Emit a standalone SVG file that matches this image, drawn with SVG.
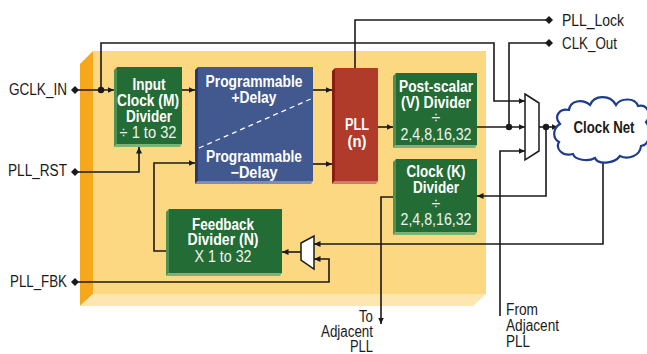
<svg xmlns="http://www.w3.org/2000/svg" width="647" height="354" viewBox="0 0 647 354">
<defs>
<marker id="arr" markerUnits="userSpaceOnUse" markerWidth="7" markerHeight="7" refX="6.5" refY="3.5" orient="auto">
<path d="M0,0.5 L6.5,3.5 L0,6.5 Z" fill="#1a1a1a"/>
</marker>
<style>
.ln{fill:none;stroke:#1a1a1a;stroke-width:1.6}
.ar{marker-end:url(#arr)}
text{font-family:"Liberation Sans",Arial,sans-serif;font-size:16px}
.lbl{fill:#1a1a1a}
.bt{font-weight:bold;fill:#ffffff;text-anchor:middle}
.rt{fill:#eef4ee;text-anchor:middle}
.green{fill:#246c36}
.gl{fill:#4f8f52}
.gb{fill:#7fb07a}
.dot{fill:#1a1a1a}
.mux{fill:#ffffff;stroke:#1a1a1a;stroke-width:1.5}
</style>
</defs>
<rect width="647" height="354" fill="#ffffff"/>
<g id="background">
<polygon points="93,51 486,51 486,294 93,294" fill="#fdd883"/>
<polygon points="80,64 93,51 93,294 80,306" fill="#f5a81c"/>
<polygon points="80,306 93,294 486,294 473,306" fill="#fee6b0"/>
</g>
<g id="connectors">
<path class="ln ar" d="M75,90 H114"/>
<path class="ln ar" d="M101,90 V43 H494 V101 H525"/>
<path class="ln ar" d="M182,90 H195"/>
<path class="ln ar" d="M75,172 H139 V147"/>
<path class="ln ar" d="M166,251 H154 V163 H195"/>
<path class="ln ar" d="M313,90 H332"/>
<path class="ln ar" d="M313,164 H332"/>
<path class="ln ar" d="M378,127 H393"/>
<path class="ln" d="M355,68 V20 H549"/>
<path class="ln ar" d="M477,127 H525"/>
<path class="ln" d="M549,43 H509 V127"/>
<path class="ln ar" d="M500,316 V151 H525"/>
<path class="ln ar" d="M539,127 H558"/>
<path class="ln ar" d="M546,127 V196 H477"/>
<path class="ln ar" d="M603,160 V244 H314"/>
<path class="ln ar" d="M393,197 H381 V324"/>
<path class="ln ar" d="M75,282 H329 V259 H314"/>
<path class="ln ar" d="M301,252 H282"/>
<circle class="dot" cx="101" cy="90" r="3.2"/>
<circle class="dot" cx="509" cy="127" r="3.2"/>
<circle class="dot" cx="546" cy="127" r="3.2"/>
<polygon class="dot" points="647,121 641,125 647,129"/>
</g>
<g id="pin-gclk">
<polygon class="dot" points="71,90 75,86 79,90 75,94"/>
<text class="lbl" x="67" y="95" text-anchor="end" textLength="58" lengthAdjust="spacingAndGlyphs">GCLK_IN</text>
</g>
<g id="pin-rst">
<polygon class="dot" points="71,172 75,168 79,172 75,176"/>
<text class="lbl" x="67" y="176" text-anchor="end" textLength="59" lengthAdjust="spacingAndGlyphs">PLL_RST</text>
</g>
<g id="pin-fbk">
<polygon class="dot" points="71,282 75,278 79,282 75,286"/>
<text class="lbl" x="67" y="287" text-anchor="end" textLength="57" lengthAdjust="spacingAndGlyphs">PLL_FBK</text>
</g>
<g id="pin-lock">
<polygon class="dot" points="545,20 549,16 553,20 549,24"/>
<text class="lbl" x="562" y="26" textLength="62" lengthAdjust="spacingAndGlyphs">PLL_Lock</text>
</g>
<g id="pin-clkout">
<polygon class="dot" points="545,43 549,39 553,43 549,47"/>
<text class="lbl" x="562" y="49" textLength="55" lengthAdjust="spacingAndGlyphs">CLK_Out</text>
</g>
<g id="input-divider">
<polygon class="gl" points="114,70 117,67 117,144 114,147"/>
<polygon class="gb" points="114,147 117,144 182,144 180,147"/>
<rect class="green" x="117" y="67" width="65" height="77"/>
<text class="bt" x="149" y="90" textLength="33" lengthAdjust="spacingAndGlyphs">Input</text>
<text class="bt" x="148" y="106" textLength="62" lengthAdjust="spacingAndGlyphs">Clock (M)</text>
<text class="bt" x="149" y="122" textLength="46" lengthAdjust="spacingAndGlyphs">Divider</text>
<text class="rt" x="148" y="138" textLength="57" lengthAdjust="spacingAndGlyphs">÷ 1 to 32</text>
</g>
<g id="delay">
<polygon fill="#25377a" points="195,70 198,67 198,181 195,184"/>
<polygon fill="#7d8db4" points="195,184 198,181 313,181 311,184"/>
<rect fill="#41598f" x="198" y="67" width="115" height="114"/>
<line x1="199" y1="148" x2="313" y2="98" stroke="#ffffff" stroke-width="1.3" stroke-dasharray="5,4"/>
<text class="bt" x="254" y="87" textLength="97" lengthAdjust="spacingAndGlyphs">Programmable</text>
<text class="bt" x="254" y="103" textLength="45" lengthAdjust="spacingAndGlyphs">+Delay</text>
<text class="bt" x="254" y="162" textLength="96" lengthAdjust="spacingAndGlyphs">Programmable</text>
<text class="bt" x="254" y="178" textLength="47" lengthAdjust="spacingAndGlyphs">−Delay</text>
</g>
<g id="pll">
<polygon fill="#8a1c12" points="332,71 335,68 335,181 332,184"/>
<polygon fill="#cf7c6c" points="332,184 335,181 378,181 376,184"/>
<rect fill="#b03b2b" x="335" y="68" width="43" height="113"/>
<text class="bt" x="357" y="130" textLength="24" lengthAdjust="spacingAndGlyphs">PLL</text>
<text class="bt" x="357" y="147" textLength="19" lengthAdjust="spacingAndGlyphs">(n)</text>
</g>
<g id="post-scalar">
<polygon class="gl" points="393,76 396,73 396,145 393,148"/>
<polygon class="gb" points="393,148 396,145 477,145 475,148"/>
<rect class="green" x="396" y="73" width="81" height="72"/>
<text class="bt" x="436" y="92" textLength="74" lengthAdjust="spacingAndGlyphs">Post-scalar</text>
<text class="bt" x="436" y="108" textLength="70" lengthAdjust="spacingAndGlyphs">(V) Divider</text>
<text class="rt" x="436" y="123" font-size="12">÷</text>
<text class="rt" x="436" y="140" textLength="71" lengthAdjust="spacingAndGlyphs">2,4,8,16,32</text>
</g>
<g id="k-divider">
<polygon class="gl" points="393,162 396,159 396,232 393,235"/>
<polygon class="gb" points="393,235 396,232 477,232 475,235"/>
<rect class="green" x="396" y="159" width="81" height="73"/>
<text class="bt" x="436" y="177" textLength="59" lengthAdjust="spacingAndGlyphs">Clock (K)</text>
<text class="bt" x="436" y="193" textLength="46" lengthAdjust="spacingAndGlyphs">Divider</text>
<text class="rt" x="436" y="209" font-size="12">÷</text>
<text class="rt" x="436" y="225" textLength="71" lengthAdjust="spacingAndGlyphs">2,4,8,16,32</text>
</g>
<g id="feedback-divider">
<polygon class="gl" points="166,212 169,209 169,273 166,276"/>
<polygon class="gb" points="166,276 169,273 282,273 280,276"/>
<rect class="green" x="169" y="209" width="113" height="64"/>
<text class="bt" x="223" y="230" textLength="62" lengthAdjust="spacingAndGlyphs">Feedback</text>
<text class="bt" x="223" y="245" textLength="71" lengthAdjust="spacingAndGlyphs">Divider (N)</text>
<text class="rt" x="223" y="262" textLength="57" lengthAdjust="spacingAndGlyphs">X 1 to 32</text>
</g>
<g id="fb-mux">
<polygon class="mux" points="301,243 314,236 314,269 301,260"/>
</g>
<g id="out-mux">
<polygon class="mux" points="525,94 539,103 539,151 525,160"/>
</g>
<g id="clock-net">
<path d="M560,124 C553,116 560,108 569,110 C570,101 582,98 590,105 C594,95 610,94 616,105 C620,98 635,97 638,106 C648,104 652,115 646,122 C652,130 650,145 641,146 C640,156 628,160 620,156 C614,164 598,165 595,158 C588,162 575,160 573,154 C563,157 555,149 559,142 C552,138 553,128 560,124 Z" fill="#ffffff" stroke="#1e3b8c" stroke-width="2.2"/>
<text x="604" y="133" font-weight="bold" fill="#1a1a1a" text-anchor="middle" textLength="61" lengthAdjust="spacingAndGlyphs">Clock Net</text>
</g>
<g id="to-adjacent">
<text class="lbl" x="373" y="322" text-anchor="end" textLength="14" lengthAdjust="spacingAndGlyphs">To</text>
<text class="lbl" x="373" y="337" text-anchor="end" textLength="52" lengthAdjust="spacingAndGlyphs">Adjacent</text>
<text class="lbl" x="373" y="352" text-anchor="end" textLength="23" lengthAdjust="spacingAndGlyphs">PLL</text>
</g>
<g id="from-adjacent">
<text class="lbl" x="506" y="315" textLength="32" lengthAdjust="spacingAndGlyphs">From</text>
<text class="lbl" x="506" y="331" textLength="53" lengthAdjust="spacingAndGlyphs">Adjacent</text>
<text class="lbl" x="506" y="347" textLength="24" lengthAdjust="spacingAndGlyphs">PLL</text>
</g>
</svg>
